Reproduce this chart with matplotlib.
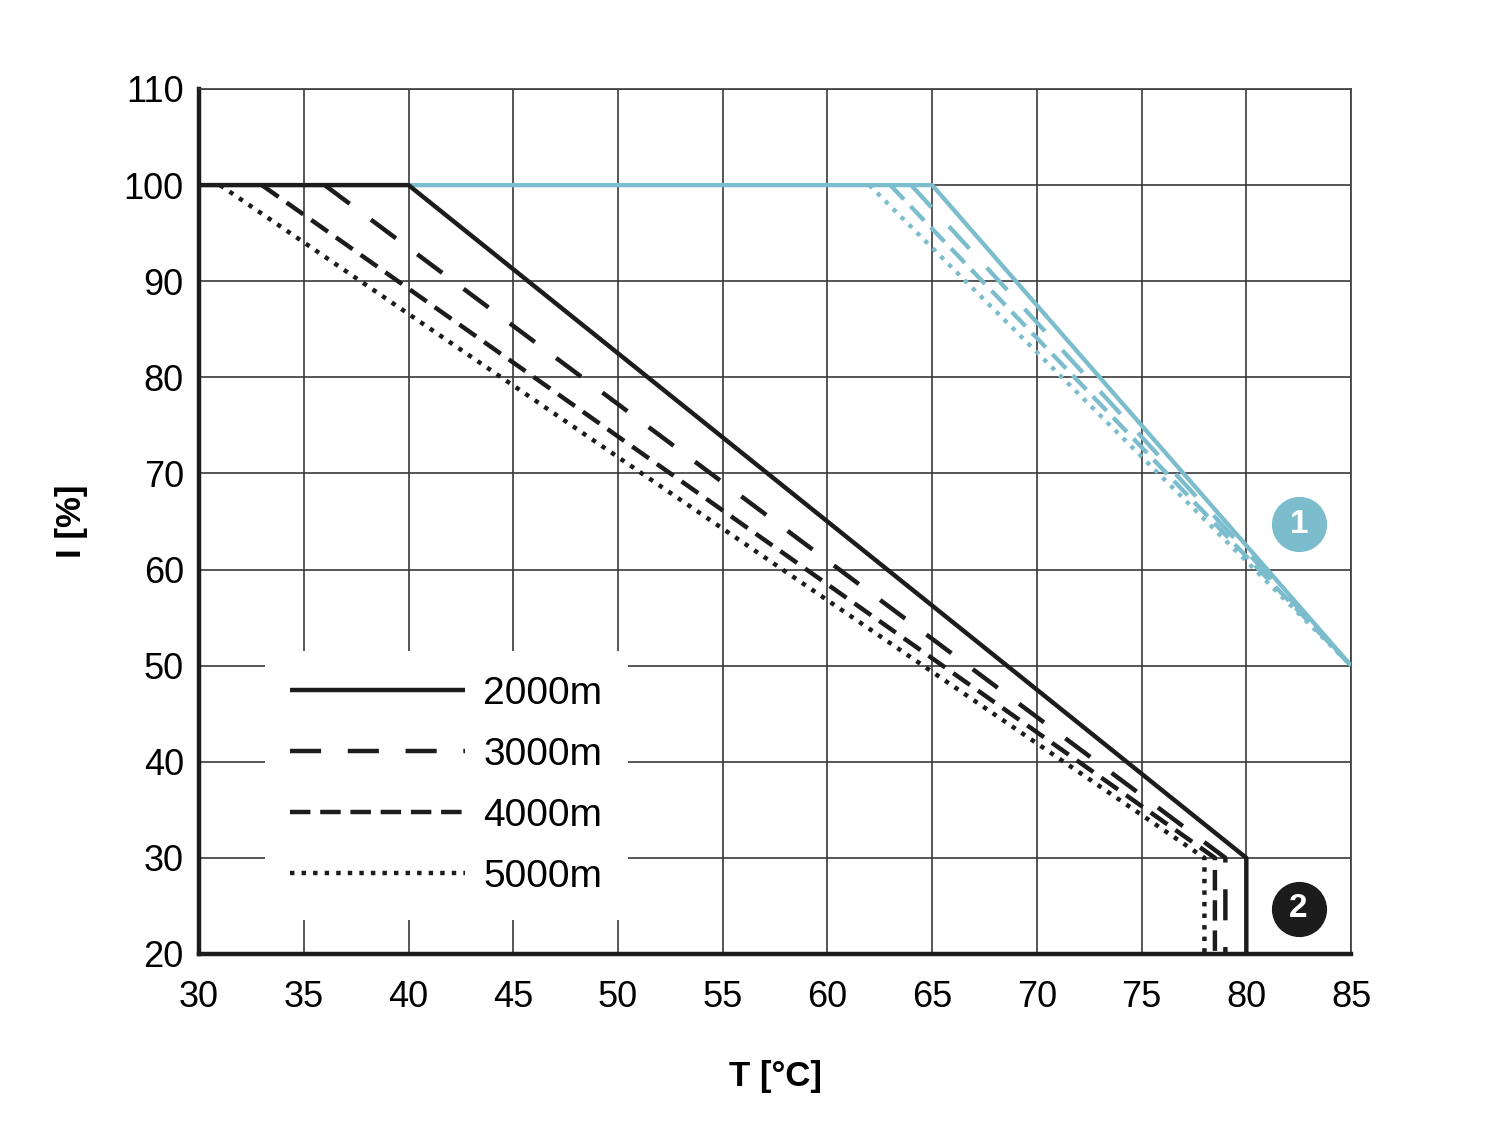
import numpy as np
import matplotlib
matplotlib.use("Agg")
import matplotlib.pyplot as plt

plt.rcParams['font.family'] = ['Liberation Sans', 'DejaVu Sans']

# derating curves, black group (altitudes)
alt_labels = ["2000m", "3000m", "4000m", "5000m"]
blk_x = [
    [30, 40, 80, 80],
    [36, 79, 79],
    [33, 78.5, 78.5],
    [31, 78, 78],
]
blk_y = [
    [100, 100, 30, 20],
    [100, 30, 20],
    [100, 30, 20],
    [100, 30, 20],
]

# blue group
blu_x = [
    [40, 65, 85],
    [64, 85],
    [63, 85],
    [62, 85],
]
blu_y = [
    [100, 100, 50],
    [100, 50],
    [100, 50],
    [100, 50],
]

dashes = [None, (7, 6), (4.6, 2.2), (1, 1.6)]
black = "#1c1c1c"
blue = "#7bbccd"

fig = plt.figure(figsize=(15, 11.38), dpi=100)
ax = fig.add_axes([0.1327, 0.1617, 0.7680, 0.7601])

for xs, ys, d in zip(blu_x, blu_y, dashes):
    ln, = ax.plot(xs, ys, color=blue, lw=3.1, solid_capstyle='butt', zorder=3)
    if d is not None:
        ln.set_dashes(d)

handles = []
for xs, ys, d, lab in zip(blk_x, blk_y, dashes, alt_labels):
    ln, = ax.plot(xs, ys, color=black, lw=3.2, label=lab, solid_capstyle='butt', zorder=4)
    if d is not None:
        ln.set_dashes(d)
    handles.append(ln)

ax.set_xlim(30, 85)
ax.set_ylim(20, 110)
ax.set_xticks(np.arange(30, 86, 5))
ax.set_yticks(np.arange(20, 111, 10))
ax.grid(True, color="#3a3a3a", lw=1.2, zorder=0)
ax.set_axisbelow(True)
ax.tick_params(length=0, labelsize=26)
ax.tick_params(axis='x', pad=19)
ax.tick_params(axis='y', pad=11)

for s in ["top", "right"]:
    ax.spines[s].set_color("#3a3a3a")
    ax.spines[s].set_linewidth(1.2)
for s in ["left", "bottom"]:
    ax.spines[s].set_color(black)
    ax.spines[s].set_linewidth(3.2)

ax.set_xlabel("T [°C]", fontsize=25, fontweight='bold', labelpad=32)
ax.set_ylabel("I [%]", fontsize=25, fontweight='bold', labelpad=26)

leg = ax.legend(handles=handles, loc='lower left', bbox_to_anchor=(0.0573, 0.0393),
                fontsize=28, handlelength=4.5, handletextpad=0.46, labelspacing=0.64,
                frameon=True, fancybox=False, framealpha=1, borderpad=0.65,
                borderaxespad=0)
leg.get_frame().set_edgecolor("white")
leg.get_frame().set_linewidth(0)

# numbered markers
ax.scatter([82.5], [64.7], s=1500, color=blue, zorder=6, clip_on=False)
ax.text(82.5, 64.7, "1", color="white", fontsize=24, fontweight='bold',
        ha='center', va='center', zorder=7)
ax.scatter([82.5], [24.7], s=1500, color=black, zorder=6, clip_on=False)
ax.text(82.5, 24.7, "2", color="white", fontsize=24, fontweight='bold',
        ha='center', va='center', zorder=7)

fig.savefig("out.png", dpi=100)
